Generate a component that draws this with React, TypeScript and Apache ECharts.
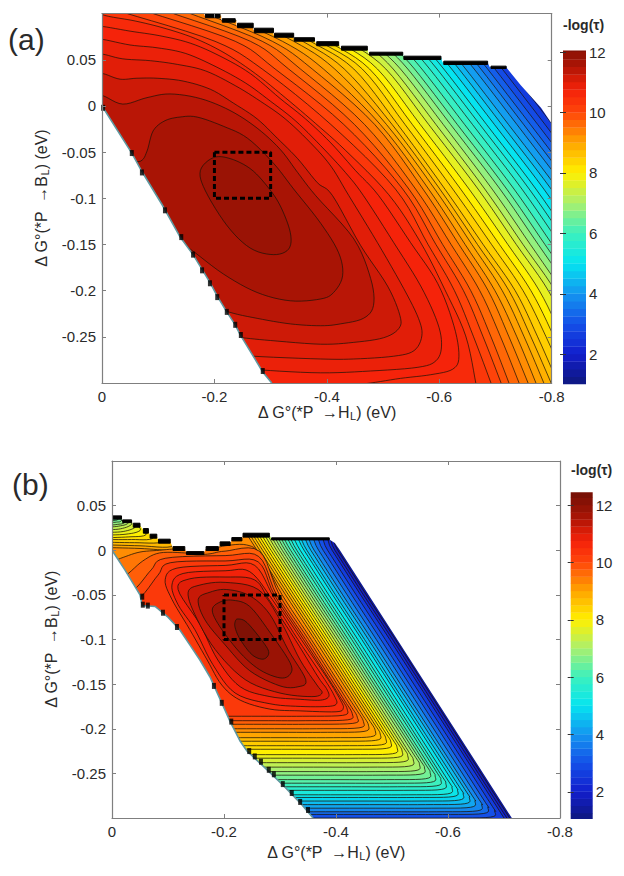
import React, { useEffect, useRef } from "react";
import * as echarts from "echarts";

// All contour points below are in meV: [magnitude of the x value, signed y value].
const colorStopValues = [1, 2, 3, 4, 5, 6, 7, 8, 9, 10, 10.7, 11, 11.5, 12, 12.5];
const colorStopRgb = [
  [14, 24, 125], [18, 30, 205], [20, 80, 232], [20, 150, 240], [5, 228, 240], [60, 240, 190], [170, 240, 110],
  [255, 240, 0], [255, 165, 0], [255, 70, 10], [245, 35, 10], [225, 30, 8], [175, 20, 5], [140, 18, 5], [115, 15, 5],
];
const barStepsA = [1, 1.25, 1.5, 1.75, 2, 2.25, 2.5, 2.75, 3, 3.25, 3.5, 3.75, 4, 4.25, 4.5, 4.75, 5, 5.25, 5.5, 5.75, 6, 6.25, 6.5, 6.75, 7, 7.25, 7.5, 7.75, 8, 8.25, 8.5, 8.75, 9, 9.25, 9.5, 9.75, 10, 10.25, 10.5, 10.75, 11, 11.25, 11.5, 11.75, 12];
const barStepsB = [1, 1.25, 1.5, 1.75, 2, 2.25, 2.5, 2.75, 3, 3.25, 3.5, 3.75, 4, 4.25, 4.5, 4.75, 5, 5.25, 5.5, 5.75, 6, 6.25, 6.5, 6.75, 7, 7.25, 7.5, 7.75, 8, 8.25, 8.5, 8.75, 9, 9.25, 9.5, 9.75, 10, 10.25, 10.5, 10.75, 11, 11.25, 11.5, 11.75, 12, 12.25];
const barTicks = [2, 4, 6, 8, 10, 12];

const boxX = [-0.2, -0.3, -0.3, -0.2, -0.2];
const boxY = [-0.05, -0.05, -0.1, -0.1, -0.05];

// Panel (a), 298 K
const rowsA = [100, 70, 40, -20, -90, -150, -200, -250, -300];
const crossingsA = [
  [672, 712, 751, 827], [658, 698, 738, 814, 900], [645, 685, 725, 801, 888], [632, 672, 712, 788, 875],
  [619, 659, 699, 775, 863], [606, 646, 686, 762, 850], [593, 633, 674, 750, 838], [580, 620, 662, 738, 826],
  [566, 606, 647, 723, 811, 880], [553, 593, 635, 711, 799, 867], [540, 580, 622, 698, 786, 854],
  [526, 566, 608, 684, 772, 840], [513, 553, 596, 672, 760, 828], [500, 540, 583, 659, 747, 815],
  [485, 525, 569, 645, 733, 801, 858], [470, 510, 556, 632, 720, 788, 845], [456, 496, 544, 620, 708, 776, 833],
  [440, 480, 531, 607, 694, 762, 819], [426, 466, 518, 594, 681, 749, 806, 846],
  [374, 439, 505, 581, 669, 737, 794, 834, 870], [353, 421, 490, 566, 653, 722, 778, 818, 854],
  [332, 403, 476, 552, 638, 707, 763, 804, 840], [308, 387, 463, 539, 624, 693, 749, 790, 826],
  [285, 371, 448, 526, 610, 678, 735, 775, 811], [264, 357, 431, 516, 601, 668, 724, 763, 799],
  [237, 341, 414, 506, 592, 658, 712, 751, 786], [210, 321, 394, 495, 581, 646, 699, 738, 772],
  [184, 303, 374, 485, 571, 635, 687, 724, 758], [157, 285, 353, 467, 558, 621, 672, 709, 742],
  [127, 264, 332, 449, 546, 606, 656, 692, 724], [91, 237, 308, 430, 535, 594, 643, 678, 710],
  [45, 201, 285, 407, 522, 580, 627, 661, 692],
];
const crossingLevelsA = [2, 2.3, 2.6, 2.9, 3.2, 3.5, 3.8, 4.1, 4.4, 4.7, 5, 5.3, 5.6, 5.9, 6.2, 6.5, 6.8, 7.1, 7.4, 7.7, 8, 8.25, 8.45, 8.65, 8.85, 9.05, 9.25, 9.45, 9.65, 9.85, 10.05, 10.3];
const openLevelsA = [10.55, 10.7, 10.85, 11, 11.2, 11.4];
const openLinesA = [
  [[-16, 105], [5, 98], [59, 92], [112, 84], [166, 73], [219, 57], [273, 35], [326, 9], [380, -19], [433, -48], [510, -96], [566, -147], [610, -199], [647, -249], [665, -300]],
  [[-16, 86], [2, 86], [50, 81], [103, 76], [157, 68], [210, 54], [264, 35], [317, 8], [362, -14], [407, -40], [451, -70], [492, -97], [549, -148], [597, -192], [626, -238], [635, -271], [624, -285], [585, -291], [531, -295], [478, -300], [424, -304]],
  [[-16, 72], [2, 72], [50, 66], [98, 63], [148, 57], [201, 43], [255, 25], [300, 5], [344, -16], [389, -43], [433, -72], [465, -97], [519, -148], [567, -195], [597, -235], [604, -260], [594, -276], [562, -283], [478, -287], [389, -289], [287, -286], [255, -283]],
  [[-16, 56], [2, 56], [37, 51], [86, 49], [134, 45], [184, 38], [237, 22], [282, 5], [326, -14], [371, -40], [407, -65], [439, -97], [490, -148], [537, -198], [563, -230], [569, -249], [555, -265], [519, -271], [448, -274], [389, -274], [269, -271], [237, -268]],
  [[-16, 35], [2, 35], [32, 29], [62, 30], [98, 30], [144, 27], [193, 18], [234, 3], [276, -14], [312, -35], [348, -57], [383, -83], [410, -97], [460, -151], [508, -195], [530, -227], [528, -241], [501, -251], [448, -256], [389, -258], [300, -254], [250, -251], [214, -248]],
  [[-16, 11], [2, 11], [37, 2], [80, 9], [121, 13], [175, 8], [228, -5], [276, -24], [317, -47], [348, -72], [380, -97], [448, -144], [478, -187], [483, -216], [465, -230], [424, -236], [389, -238], [335, -236], [276, -230], [225, -223], [175, -211]],
];
const loopLevelsA = [11.6, 11.8];
const loopsA = [
  [[32, -65], [68, -60], [80, -49], [91, -27], [112, -16], [139, -12], [169, -12], [216, -22], [259, -35], [305, -62], [341, -90], [389, -127], [421, -159], [428, -184], [412, -202], [389, -209], [335, -211], [276, -202], [216, -182], [157, -155], [121, -141]],
  [[198, -56], [175, -70], [184, -92], [223, -130], [264, -154], [305, -161], [332, -155], [335, -137], [317, -108], [294, -87], [264, -68], [228, -57]],
];
const topMaskA = [[182, 98], [212, 98], [212, 93], [239, 93], [239, 87], [269, 87], [269, 82], [305, 82], [305, 77], [341, 77], [341, 72], [378, 72], [380, 68], [421, 68], [424, 62.5], [472, 62.5], [474, 57], [535, 57], [537, 53], [603, 53], [606, 47], [686, 47], [690, 42], [719, 42], [745, 22.5], [781, -2], [802, -21], [802, 110], [182, 110]];
const edgeA = [[0, 0], [53, -51], [71, -71], [107, -107], [139, -142], [162, -161], [178, -177], [192, -191], [205, -206], [222, -223], [237, -237], [246, -248], [286, -288], [302, -300]];
const stairsA = [[184, 210, 100, 95.5], [214, 237, 94.5, 90.7], [241, 269, 89.6, 84.7], [271, 305, 84.2, 79.3], [307, 341, 78.8, 74.4], [342, 378, 73.9, 70.1], [382, 421, 69.6, 65.2], [426, 472, 64.7, 60.4], [476, 535, 58.2, 55], [537, 603, 53.9, 50.3], [608, 686, 48.5, 44.9], [692, 719, 43.1, 40.6]];
const dotsA = [[2, -2], [53, -51], [71, -72], [112, -113], [141, -142], [162, -161], [178, -178], [192, -192], [205, -207], [222, -223], [237, -237], [247, -248], [286, -287]];

// Panel (b), 50 K
const openLevelsB = [1.8, 2.2, 2.6, 3, 3.4, 3.8, 4.2, 4.5, 4.8, 5.1, 5.4, 5.7, 6, 6.25, 6.5, 6.75, 7, 7.25, 7.5, 7.75, 8, 8.25, 8.5, 8.75, 9, 9.25, 9.5, 9.75, 10, 10.25];
const openLinesB = [
  [[-8, 50], [229, 78], [377, 25], [403, 0], [454, -50], [506, -100], [557, -150], [608, -200], [659, -250], [710, -300], [730, -320]],
  [[-8, 50], [229, 77], [372, 25], [398, 0], [449, -50], [501, -100], [552, -150], [603, -200], [654, -250], [705, -300], [725, -320]],
  [[-8, 50], [229, 76], [367, 25], [393, 0], [444, -50], [496, -100], [547, -150], [598, -200], [649, -250], [700, -300], [720, -320]],
  [[-8, 50], [229, 74], [359, 25], [385, 0], [436, -50], [488, -100], [539, -150], [670, -278], [683, -292], [676, -299], [600, -300], [500, -300], [355, -300]],
  [[-8, 50], [229, 72], [351, 25], [377, 0], [428, -50], [480, -100], [531, -150], [658, -274], [671, -288], [663, -295], [590, -296], [490, -296], [350, -296]],
  [[-8, 50], [229, 70], [343, 25], [369, 0], [420, -50], [472, -100], [523, -150], [647, -271], [660, -285], [652, -292], [580, -293], [480, -293], [345, -293]],
  [[-8, 50], [229, 68], [335, 25], [361, 0], [412, -50], [464, -100], [515, -150], [635, -267], [648, -281], [640, -288], [570, -289], [470, -289], [340, -289]],
  [[-8, 50], [229, 66], [329, 25], [355, 0], [406, -50], [458, -100], [509, -150], [625, -263], [638, -277], [630, -284], [560, -285], [460, -285], [335, -285]],
  [[-8, 50], [229, 64], [322, 25], [348, 0], [399, -50], [451, -100], [502, -150], [614, -259], [627, -273], [619, -280], [550, -281], [450, -281], [330, -281]],
  [[-8, 48], [20, 62], [229, 62], [317, 25], [343, 0], [394, -50], [446, -100], [497, -150], [604, -255], [617, -269], [609, -276], [540, -277], [440, -277], [325, -277]],
  [[-8, 46], [20, 60], [229, 60], [310, 25], [336, 0], [387, -50], [439, -100], [490, -150], [594, -252], [607, -266], [599, -273], [530, -274], [430, -274], [320, -274]],
  [[-8, 44], [20, 58], [229, 58], [304, 25], [330, 0], [381, -50], [433, -100], [484, -150], [583, -247], [596, -261], [588, -268], [520, -269], [420, -269], [310, -269]],
  [[-8, 42], [20, 56], [229, 56], [299, 25], [325, 0], [376, -50], [428, -100], [479, -150], [574, -243], [587, -257], [579, -264], [510, -265], [410, -265], [300, -265]],
  [[-8, 36], [4, 36], [8, 38], [20, 54], [229, 54], [293, 25], [319, 0], [370, -50], [422, -100], [473, -150], [564, -239], [577, -253], [569, -260], [500, -261], [400, -261], [293, -261]],
  [[-8, 33], [6, 33.5], [12, 36], [24, 52], [229, 52], [288, 25], [314, 0], [365, -50], [417, -100], [468, -150], [555, -235], [568, -249], [560, -256], [490, -257], [390, -257], [286, -257]],
  [[-8, 31], [8, 31.5], [18, 34], [30, 50], [229, 50], [283, 25], [309, 0], [360, -50], [412, -100], [463, -150], [545, -230], [558, -244], [550, -251], [480, -252], [380, -252], [276, -252]],
  [[-8, 28], [10, 29], [24, 32], [36, 48], [229, 48], [278, 25], [304, 0], [355, -50], [407, -100], [458, -150], [536, -226], [549, -240], [541, -247], [470, -248], [370, -248], [268, -248]],
  [[-8, 26], [12, 27], [30, 31], [42, 46], [229, 46], [273, 25], [299, 0], [350, -50], [402, -100], [453, -150], [525, -221], [538, -235], [530, -242], [460, -243], [360, -243], [258, -243]],
  [[-8, 23], [15, 24], [35, 29], [47, 42], [229, 44], [268, 25], [294, 0], [345, -50], [397, -100], [448, -150], [515, -216], [528, -230], [520, -237], [450, -238], [350, -238], [250, -238]],
  [[-8, 20], [20, 21], [42, 26], [54, 38], [229, 42], [263, 25], [289, 0], [340, -50], [392, -100], [443, -150], [505, -211], [518, -225], [510, -232], [440, -233], [340, -233], [238, -233]],
  [[-8, 17], [25, 18], [50, 22], [62, 34], [229, 40], [258, 25], [284, 0], [335, -50], [387, -100], [438, -150], [496, -207], [509, -221], [501, -228], [430, -229], [330, -229], [230, -229]],
  [[-8, 14], [30, 15], [60, 17], [70, 28], [229, 38], [253, 25], [279, 0], [330, -50], [382, -100], [433, -150], [485, -201], [498, -215], [490, -222], [420, -223], [320, -223], [222, -223]],
  [[-8, 12], [35, 12], [72, 13], [85, 25], [229, 35], [248, 25], [274, 0], [325, -50], [377, -100], [428, -150], [476, -197], [489, -211], [481, -218], [410, -219], [310, -219], [218, -219]],
  [[-8, 9], [40, 8.5], [88, 9], [100, 20], [229, 32], [243, 25], [269, 0], [320, -50], [372, -100], [423, -150], [466, -192], [479, -206], [471, -213], [400, -214], [300, -214], [210, -214]],
  [[-8, 6], [50, 5], [105, 4], [118, 16], [229, 30], [238, 25], [264, 0], [315, -50], [367, -100], [418, -150], [457, -188], [470, -202], [462, -209], [395, -210], [300, -210], [205, -210]],
  [[-8, 3], [50, 2], [95, 0], [134, -2], [148, 12], [229, 25], [233, 25], [259, 0], [310, -50], [362, -100], [413, -150], [445, -182], [458, -196], [450, -203], [385, -204], [300, -204], [205, -204]],
  [[-8, -15], [20, -8], [50, -2], [85, 0], [120, 2], [150, 3], [175, 1], [202, 5], [240, 6], [265, -5], [304, -50], [356, -100], [407, -150], [436, -178], [449, -192], [441, -199], [365, -200], [290, -200], [200, -200]],
  [[-8, -40], [25, -28], [55, -12], [85, -3], [130, -3], [150, -5], [175, -4], [202, -1], [263, -1], [299, -50], [351, -100], [402, -150], [425, -173], [438, -187], [430, -194], [345, -195], [280, -195], [205, -195]],
  [[-8, -60], [38, -45], [70, -22], [95, -9], [202, -6], [262, -7], [294, -50], [346, -100], [397, -150], [416, -169], [429, -183], [421, -190], [345, -191], [280, -191], [195, -191]],
  [[-8, -60], [45, -55], [82, -28], [104, -14], [202, -12], [261, -13], [290, -50], [342, -100], [393, -150], [407, -164], [420, -178], [412, -185], [340, -186], [280, -186], [190, -186]],
];
const loopLevelsB = [10.5, 10.75, 11, 11.25, 11.5, 11.8, 12.25];
const loopsB = [
  [[95, -33], [116, -20], [202, -17], [255, -17], [291, -55], [338, -100], [386, -145], [408, -168], [413, -177], [400, -181], [336, -180], [282, -178], [229, -168], [196, -151], [170, -123], [139, -89], [107, -55]],
  [[107, -39], [127, -26], [202, -23], [246, -24], [286, -55], [332, -100], [380, -145], [397, -163], [401, -172], [385, -175], [336, -175], [282, -172], [220, -160], [180, -128], [148, -89], [118, -61]],
  [[118, -44], [139, -32], [202, -30], [254, -33], [280, -55], [327, -100], [368, -142], [383, -155], [387, -164], [372, -168], [336, -167], [282, -164], [229, -153], [189, -123], [157, -83]],
  [[136, -47], [157, -39], [202, -36], [261, -44], [300, -78], [336, -123], [366, -151], [375, -160], [357, -164], [300, -160], [238, -145], [184, -111], [148, -72]],
  [[154, -55], [175, -47], [205, -44], [246, -51], [282, -72], [314, -111], [346, -145], [332, -153], [300, -152], [246, -135], [202, -106], [166, -78]],
  [[179, -67], [193, -58], [216, -56], [246, -63], [282, -92], [318, -126], [318, -139], [300, -143], [264, -134], [229, -115], [193, -86]],
  [[220, -80], [225, -77], [241, -81], [270, -103], [280, -115], [270, -122], [250, -117], [229, -100], [220, -87]],
];
const topMaskB = [[0, 36], [17, 36], [19, 33], [35, 33], [38, 28], [50, 28], [56, 22], [65, 22], [68, 16], [80, 16], [83, 10], [104, 10], [109, 2], [130, 2], [133, -3], [164, -3], [168, 2], [190, 2], [193, 7], [211, 7], [214, 12], [232, 12], [234, 17], [281, 17], [285, 13], [386, 13], [398, 8], [407, 0], [444, -36], [714, -300], [820, -300], [820, 110], [-10, 110], [-10, 36]];
const edgeB = [[0, 0], [23, -22], [50, -50], [54, -62], [77, -63], [100, -75], [121, -89], [139, -106], [157, -123], [175, -142], [196, -171], [211, -192], [229, -214], [241, -225], [277, -246], [305, -263], [336, -283], [359, -300]];
const stairsB = [[0, 17, 38.5, 34.8], [19, 35, 34, 31], [38, 50, 30.3, 25.8], [56, 65, 24.3, 19.1], [68, 80, 18, 13.5], [83, 104, 12.4, 7.9], [109, 130, 4.1, -0.3], [133, 164, -1.5, -4.8], [168, 190, 4.1, -0.3], [193, 211, 9.4, 5.3], [214, 232, 14.2, 10.5], [234, 281, 19.1, 14.7], [285, 388, 13.9, 11.6]];
const dotsB = [[54, -52], [55, -61], [64, -62], [91, -70], [116, -86], [182, -152], [196, -171], [213, -192], [245, -225], [255, -231], [266, -237], [280, -246], [289, -251], [305, -262], [321, -272], [336, -282], [350, -291]];

const FONT = "'Liberation Sans', Arial, sans-serif";
const TEXT = "#2a2a2a";
const AXIS = "#7f7f7f";

function jet(v: number): string {
  let i = 0;
  while (i < colorStopValues.length - 2 && v > colorStopValues[i + 1]) i++;
  const t = Math.max(0, Math.min(1, (v - colorStopValues[i]) / (colorStopValues[i + 1] - colorStopValues[i])));
  const a = colorStopRgb[i];
  const b = colorStopRgb[i + 1];
  return `rgb(${a.map((c, k) => Math.round(c + (b[k] - c) * t)).join(",")})`;
}

// Draws a smooth pixel curve through the given points; the data stays untouched.
function spline(p: number[][], closed: boolean): number[][] {
  const out: number[][] = [];
  const n = p.length;
  const at = (i: number) => (closed ? p[(i + n) % n] : p[Math.max(0, Math.min(n - 1, i))]);
  const segs = closed ? n : n - 1;
  for (let i = 0; i < segs; i++) {
    const [p0, p1, p2, p3] = [at(i - 1), at(i), at(i + 1), at(i + 2)];
    for (let s = 0; s < 6; s++) {
      const t = s / 6;
      const t2 = t * t;
      const t3 = t2 * t;
      out.push([0, 1].map((k) => 0.5 * (2 * p1[k] + (p2[k] - p0[k]) * t + (2 * p0[k] - 5 * p1[k] + 4 * p2[k] - p3[k]) * t2 + (3 * p1[k] - p0[k] - 3 * p2[k] + p3[k]) * t3)));
    }
  }
  if (!closed) out.push(p[n - 1]);
  return out;
}

type Contour = { level: number; pts: number[][]; closed: boolean };

function contourSeries(contours: Contour[], base: number, axisIndex: number, z: number, lineWidth: number) {
  return {
    type: "custom",
    xAxisIndex: axisIndex,
    yAxisIndex: axisIndex,
    clip: true,
    silent: true,
    z,
    data: [[-0.1, 0], ...contours.map(() => [-0.1, 0])],
    renderItem: (params: any, api: any) => {
      const coord = (q: number[]) => api.coord([-q[0] / 1000, q[1] / 1000]);
      if (params.dataIndex === 0) {
        return { type: "polygon", shape: { points: [[0, 100], [800, 100], [800, -300], [0, -300]].map(coord) }, style: { fill: jet(base) } };
      }
      const c = contours[params.dataIndex - 1];
      const curve = spline(c.pts.map(coord), c.closed);
      const first = c.pts[0];
      const last = c.pts[c.pts.length - 1];
      const closure = c.closed ? [] : [[last[0], -450], [-100, -450], [-100, 200], [first[0], 200]].map(coord);
      const stroke = { stroke: "#1c1408", lineWidth, fill: "none", opacity: 0.9 };
      return {
        type: "group",
        children: [
          { type: "polygon", shape: { points: [...curve, ...closure] }, style: { fill: jet(c.level) } },
          c.closed
            ? { type: "polygon", shape: { points: curve }, style: stroke }
            : { type: "polyline", shape: { points: curve }, style: stroke },
        ],
      };
    },
  };
}

function maskSeries(topMask: number[][], edge: number[][], stairs: number[][], axisIndex: number, z: number) {
  const lower = [...edge, [edge[edge.length - 1][0], -320], [-20, -320], [-20, 0]];
  return {
    type: "custom",
    xAxisIndex: axisIndex,
    yAxisIndex: axisIndex,
    clip: true,
    silent: true,
    z,
    data: [[-0.1, 0]],
    renderItem: (_: any, api: any) => {
      const coord = (q: number[]) => api.coord([-q[0] / 1000, q[1] / 1000]);
      return {
        type: "group",
        children: [
          { type: "polygon", shape: { points: topMask.map(coord) }, style: { fill: "#fff" } },
          { type: "polygon", shape: { points: lower.map(coord) }, style: { fill: "#fff" } },
          { type: "polyline", shape: { points: edge.map(coord) }, style: { stroke: "#5f98a0", lineWidth: 1.6, fill: "none" } },
          ...stairs.map((r) => ({
            type: "polygon",
            shape: { points: [[r[0], r[2]], [r[1], r[2]], [r[1], r[3]], [r[0], r[3]]].map(coord) },
            style: { fill: "#000", stroke: "#000", lineWidth: 1 },
          })),
        ],
      };
    },
  };
}

function dotSeries(dots: number[][], axisIndex: number, z: number) {
  return {
    type: "scatter",
    xAxisIndex: axisIndex,
    yAxisIndex: axisIndex,
    silent: true,
    z,
    symbol: "rect",
    symbolSize: [4, 6],
    itemStyle: { color: "#000" },
    data: dots.map((d) => [-d[0] / 1000, d[1] / 1000]),
  };
}

function boxSeries(axisIndex: number, z: number) {
  return {
    type: "line",
    xAxisIndex: axisIndex,
    yAxisIndex: axisIndex,
    silent: true,
    z,
    showSymbol: false,
    lineStyle: { color: "#000", width: 3, type: [5, 3] },
    data: boxX.map((x, i) => [x, boxY[i]]),
  };
}

function barSeries(steps: number[], axisIndex: number, z: number) {
  return {
    type: "custom",
    xAxisIndex: axisIndex,
    yAxisIndex: axisIndex,
    clip: true,
    silent: true,
    z,
    data: steps.map((v) => [0.5, v]),
    renderItem: (params: any, api: any) => {
      const v = steps[params.dataIndex];
      const a = api.coord([0, v + 0.26]);
      const b = api.coord([1, v]);
      return { type: "rect", shape: { x: a[0], y: a[1], width: b[0] - a[0], height: b[1] - a[1] }, style: { fill: jet(v + 0.125) } };
    },
  };
}

const rich = { sub: { fontSize: 11, fontFamily: FONT, color: TEXT, padding: [7, 0, 0, 0] } };

function plotXAxes(gridIndex: number, nameGap: number) {
  const common = { gridIndex, type: "value", min: -0.8, max: 0, interval: 0.2, inverse: true, z: 10, splitLine: { show: false }, axisLine: { onZero: false, lineStyle: { color: AXIS, width: 1.2 } }, axisTick: { inside: true, length: 4, lineStyle: { color: AXIS } } };
  return [
    {
      ...common,
      position: "bottom",
      name: "\u0394 G\u00b0(*P  \u2192H{sub|L}) (eV)",
      nameLocation: "middle",
      nameGap,
      nameTextStyle: { fontFamily: FONT, fontSize: 16, color: TEXT, rich },
      axisLabel: { fontFamily: FONT, fontSize: 15, color: TEXT, margin: 6 },
    },
    { ...common, position: "top", axisLabel: { show: false } },
  ];
}

function plotYAxes(gridIndex: number, nameGap: number) {
  const common = { gridIndex, type: "value", min: -0.3, max: 0.1, interval: 0.05, z: 10, splitLine: { show: false }, axisLine: { onZero: false, lineStyle: { color: AXIS, width: 1.2 } }, axisTick: { inside: true, length: 4, lineStyle: { color: AXIS } } };
  return [
    {
      ...common,
      position: "left",
      name: "\u0394 G\u00b0(*P  \u2192B{sub|L}) (eV)",
      nameLocation: "middle",
      nameGap,
      nameTextStyle: { fontFamily: FONT, fontSize: 16, color: TEXT, rich },
      axisLabel: {
        fontFamily: FONT,
        fontSize: 15,
        color: TEXT,
        margin: 6,
        formatter: (v: number) => (v > 0.09 || v < -0.29 ? "" : String(Math.round(v * 100) / 100)),
      },
    },
    { ...common, position: "right", axisLabel: { show: false } },
  ];
}

function barAxes(gridIndex: number, min: number, max: number) {
  const tick = { inside: true, length: 3, customValues: barTicks, lineStyle: { color: "#333" } };
  return {
    x: { gridIndex, type: "value", min: 0, max: 1, show: false },
    y: [
      { gridIndex, type: "value", min, max, position: "right", z: 10, splitLine: { show: false }, axisLine: { show: false }, axisTick: tick, axisLabel: { customValues: barTicks, fontFamily: FONT, fontSize: 15, color: TEXT, margin: 3 } },
      { gridIndex, type: "value", min, max, position: "left", z: 10, splitLine: { show: false }, axisLine: { show: false }, axisTick: tick, axisLabel: { show: false } },
    ],
  };
}

const contoursA: Contour[] = [
  ...crossingsA.map((row, i) => ({ level: crossingLevelsA[i], closed: false, pts: row.map((x, k) => [x, rowsA[k]]) })),
  ...openLinesA.map((pts, i) => ({ level: openLevelsA[i], closed: false, pts })),
  ...loopsA.map((pts, i) => ({ level: loopLevelsA[i], closed: true, pts })),
];
const contoursB: Contour[] = [
  ...openLinesB.map((pts, i) => ({ level: openLevelsB[i], closed: false, pts })),
  ...loopsB.map((pts, i) => ({ level: loopLevelsB[i], closed: true, pts })),
];

function text(content: string, x: number, y: number, fontSize: number, fontWeight = "normal") {
  return { type: "text", x, y, style: { text: content, fontFamily: FONT, fontSize, fontWeight, fill: TEXT, textVerticalAlign: "middle" } };
}

export default function App() {
  const ref = useRef<HTMLDivElement>(null);
  useEffect(() => {
    document.body.style.margin = "0";
    const chart = echarts.init(ref.current!, undefined, { renderer: "svg" });
    const xA = plotXAxes(0, 18);
    const xB = plotXAxes(1, 25);
    const yA = plotYAxes(0, 52);
    const yB = plotYAxes(1, 50);
    const barA = barAxes(2, 1, 12.05);
    const barB = barAxes(3, 1.05, 12.45);
    chart.setOption({
      animation: false,
      backgroundColor: "#fff",
      grid: [
        { left: 102, top: 13.6, width: 449.7, height: 369.4 },
        { left: 112, top: 461, width: 448, height: 357 },
        { left: 563, top: 50.5, width: 23, height: 334 },
        { left: 570.7, top: 492.3, width: 22, height: 326.7 },
      ],
      // Axis index pairs: 0 panel a, 1 panel b, 2 bar a, 3 bar b; the rest are the mirrored tick axes.
      xAxis: [xA[0], xB[0], barA.x, barB.x, xA[1], xB[1]],
      yAxis: [yA[0], yB[0], barA.y[0], barB.y[0], yA[1], yB[1], barA.y[1], barB.y[1]],
      series: [
        contourSeries(contoursA, 1.6, 0, 2, 0.8),
        maskSeries(topMaskA, edgeA, stairsA, 0, 3),
        dotSeries(dotsA, 0, 4),
        boxSeries(0, 5),
        contourSeries(contoursB, 1.3, 1, 2, 0.85),
        maskSeries(topMaskB, edgeB, stairsB, 1, 3),
        dotSeries(dotsB, 1, 4),
        boxSeries(1, 5),
        barSeries(barStepsA, 2, 2),
        barSeries(barStepsB, 3, 2),
      ],
      graphic: [
        text("(a)", 8, 39, 30),
        text("(b)", 12, 484, 30),
        text("298 K", 486, 32, 14),
        text("50 K", 488, 478, 14),
        text("-log(\u03c4)", 563, 25, 14, "bold"),
        text("-log(\u03c4)", 571, 470, 14, "bold"),
      ],
    });
    return () => chart.dispose();
  }, []);
  return <div ref={ref} style={{ position: "absolute", left: 0, top: 0, width: 624, height: 876 }} />;
}
